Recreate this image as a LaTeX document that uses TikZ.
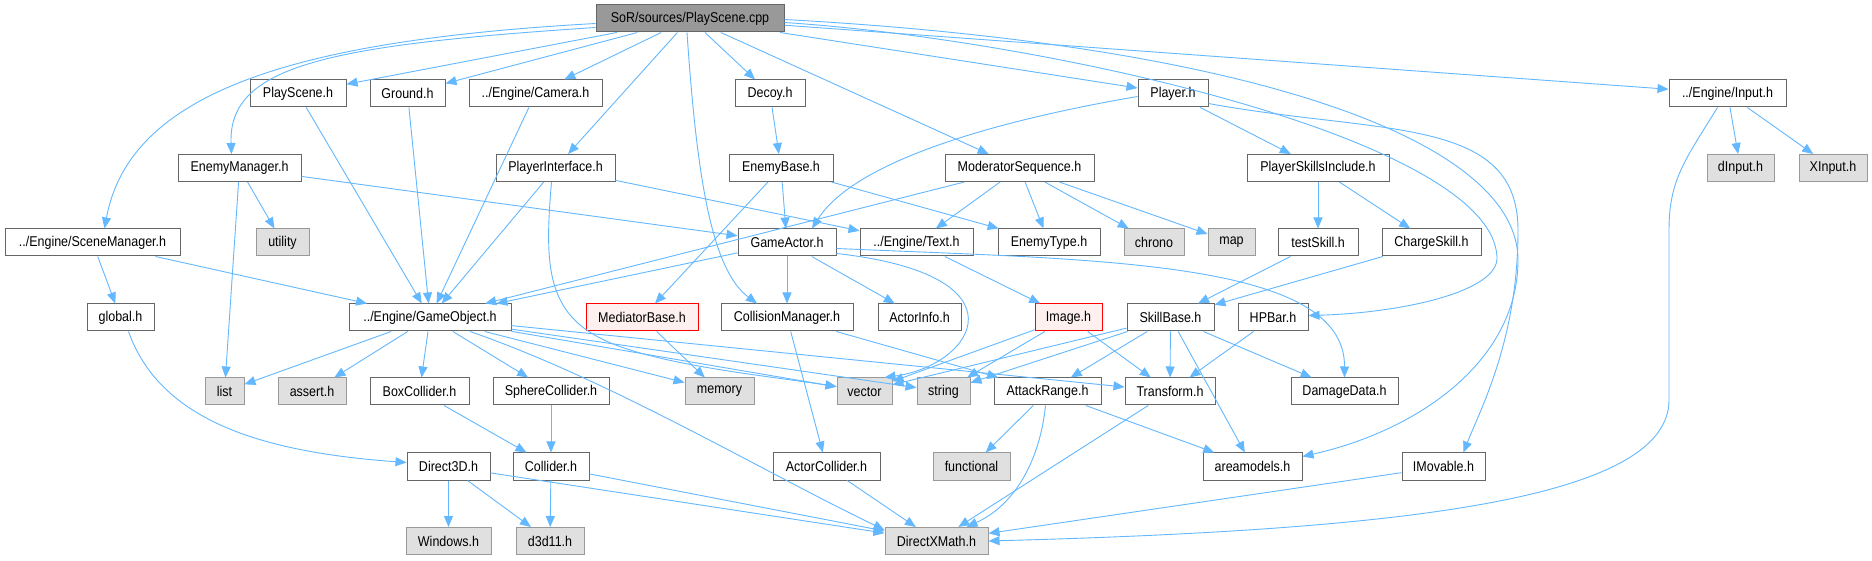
\documentclass[tikz,border=0pt]{standalone}
\usepackage{fontspec}
\setmainfont{Liberation Sans}[FakeStretch=0.88]
\usepackage{tikz}
\usetikzlibrary{arrows.meta}
\definecolor{edgeblue}{HTML}{63B8FF}
\definecolor{boxgray}{HTML}{666666}
\definecolor{sysdraw}{HTML}{999999}
\definecolor{sysfill}{HTML}{E0E0E0}
\definecolor{rootfill}{HTML}{999999}
\definecolor{missfill}{HTML}{FFF0F0}

\begin{document}
\begin{tikzpicture}[x=1pt, y=1pt, >={Triangle[length=11pt,width=9pt]},
    hdr/.style={draw=boxgray, fill=white, line width=1pt, minimum height=27pt,
        inner sep=0pt, font=\fontsize{14.2}{16}\selectfont},
    sys/.style={hdr, draw=sysdraw, fill=sysfill},
    mainfile/.style={hdr, fill=rootfill},
    missing/.style={hdr, draw=red, fill=missfill},
    dep/.style={->, draw=edgeblue, line width=0.9pt}]
    \fill[white] (0,0) rectangle (1872,560);
    \useasboundingbox (0,0) rectangle (1872,560);

    % row 1
    \node[mainfile, minimum width=188pt] (playscenecpp) at (690,541.5) {SoR/sources/PlayScene.cpp};
    % row 2
    \node[hdr, minimum width=96pt] (playsceneh) at (298,466.5) {PlayScene.h};
    \node[hdr, minimum width=75pt] (ground) at (407.5,466.5) {Ground.h};
    \node[hdr, minimum width=133pt] (camera) at (535.5,466.5) {../Engine/Camera.h};
    \node[hdr, minimum width=70pt] (decoy) at (770,466.5) {Decoy.h};
    \node[hdr, minimum width=70pt] (player) at (1173,466.5) {Player.h};
    \node[hdr, minimum width=117pt] (input) at (1727.5,466.5) {../Engine/Input.h};
    % row 3
    \node[hdr, minimum width=123pt] (enemymanager) at (239.5,392) {EnemyManager.h};
    \node[hdr, minimum width=119pt] (playerinterface) at (555.5,392) {PlayerInterface.h};
    \node[hdr, minimum width=104pt] (enemybase) at (781,392) {EnemyBase.h};
    \node[hdr, minimum width=149pt] (moderator) at (1019.5,392) {ModeratorSequence.h};
    \node[hdr, minimum width=142pt] (skillsinclude) at (1318,392) {PlayerSkillsInclude.h};
    \node[sys, minimum width=67pt] (dinput) at (1740.5,392) {dInput.h};
    \node[sys, minimum width=68pt] (xinput) at (1833,392) {XInput.h};
    % row 4
    \node[hdr, minimum width=175pt] (scenemanager) at (92.5,317.5) {../Engine/SceneManager.h};
    \node[sys, minimum width=53pt] (utility) at (282.5,317.5) {utility};
    \node[hdr, minimum width=98pt] (gameactor) at (787,317.5) {GameActor.h};
    \node[hdr, minimum width=113pt] (text) at (916.5,317.5) {../Engine/Text.h};
    \node[hdr, minimum width=102pt] (enemytype) at (1049,317.5) {EnemyType.h};
    \node[sys, minimum width=60pt] (chrono) at (1154,317.5) {chrono};
    \node[sys, minimum width=47pt] (map) at (1231.5,317.5) {map};
    \node[hdr, minimum width=80pt] (testskill) at (1318,317.5) {testSkill.h};
    \node[hdr, minimum width=99pt] (chargeskill) at (1431.5,317.5) {ChargeSkill.h};
    % row 5
    \node[hdr, minimum width=67pt] (global) at (120.5,242.5) {global.h};
    \node[hdr, minimum width=162pt] (gameobject) at (430,242.5) {../Engine/GameObject.h};
    \node[missing, minimum width=112pt] (mediator) at (642,242.5) {MediatorBase.h};
    \node[hdr, minimum width=132pt] (collision) at (787,242.5) {CollisionManager.h};
    \node[hdr, minimum width=83pt] (actorinfo) at (919.5,242.5) {ActorInfo.h};
    \node[missing, minimum width=67pt] (image) at (1068.5,242.5) {Image.h};
    \node[hdr, minimum width=87pt] (skillbase) at (1170.5,242.5) {SkillBase.h};
    \node[hdr, minimum width=70pt] (hpbar) at (1273,242.5) {HPBar.h};
    % row 6
    \node[sys, minimum width=39pt] (list) at (224.5,168.5) {list};
    \node[sys, minimum width=68pt] (assert) at (312,168.5) {assert.h};
    \node[hdr, minimum width=99pt] (boxcollider) at (419.5,168.5) {BoxCollider.h};
    \node[hdr, minimum width=116pt] (spherecollider) at (551,168.5) {SphereCollider.h};
    \node[sys, minimum width=69pt] (memory) at (719.5,168.5) {memory};
    \node[sys, minimum width=55pt] (vector) at (864.5,168.5) {vector};
    \node[sys, minimum width=53pt] (string) at (943.5,168.5) {string};
    \node[hdr, minimum width=107pt] (attackrange) at (1047.5,168.5) {AttackRange.h};
    \node[hdr, minimum width=90pt] (transform) at (1170,168.5) {Transform.h};
    \node[hdr, minimum width=107pt] (damagedata) at (1344.5,168.5) {DamageData.h};
    % row 7
    \node[hdr, minimum width=83pt] (direct3d) at (448.5,93.5) {Direct3D.h};
    \node[hdr, minimum width=76pt] (collider) at (551,93.5) {Collider.h};
    \node[hdr, minimum width=107pt] (actorcollider) at (826.5,93.5) {ActorCollider.h};
    \node[sys, minimum width=77pt] (functional) at (971.5,93.5) {functional};
    \node[hdr, minimum width=99pt] (areamodels) at (1252.5,93.5) {areamodels.h};
    \node[hdr, minimum width=83pt] (imovable) at (1443.5,93.5) {IMovable.h};
    % row 8
    \node[sys, minimum width=85pt] (windows) at (448.5,19) {Windows.h};
    \node[sys, minimum width=68pt] (d3d11) at (550,19) {d3d11.h};
    \node[sys, minimum width=103pt] (directxmath) at (936.5,19) {DirectXMath.h};

    % straight includes
    \foreach \a/\b in {playscenecpp/playsceneh, playscenecpp/ground, playscenecpp/camera,
        playscenecpp/decoy, playscenecpp/player, playscenecpp/input,
        playscenecpp/playerinterface, playscenecpp/moderator,
        playsceneh/gameobject, ground/gameobject, camera/gameobject,
        decoy/enemybase, player/skillsinclude, input/dinput, input/xinput,
        enemymanager/list, enemymanager/utility, enemymanager/gameactor,
        playerinterface/gameobject, playerinterface/text,
        enemybase/gameactor, enemybase/mediator, enemybase/enemytype,
        moderator/gameobject, moderator/text, moderator/enemytype,
        moderator/chrono, moderator/map,
        skillsinclude/testskill, skillsinclude/chargeskill,
        scenemanager/global, scenemanager/gameobject,
        gameactor/gameobject, gameactor/collision, gameactor/actorinfo,
        text/image, testskill/skillbase, chargeskill/skillbase,
        gameobject/list, gameobject/assert, gameobject/boxcollider,
        gameobject/spherecollider, gameobject/memory, gameobject/vector,
        gameobject/string, gameobject/transform,
        mediator/memory, collision/actorcollider, collision/attackrange,
        image/vector, image/string, image/transform,
        skillbase/vector, skillbase/string, skillbase/attackrange,
        skillbase/transform, skillbase/damagedata, skillbase/areamodels,
        hpbar/transform, boxcollider/collider, spherecollider/collider,
        attackrange/functional, attackrange/areamodels, transform/directxmath,
        direct3d/windows, direct3d/d3d11, direct3d/directxmath,
        collider/d3d11, collider/directxmath, actorcollider/directxmath,
        imovable/directxmath}
        \draw[dep] (\a) -- (\b);

    % curved includes
    \draw[dep] ([yshift=-5pt]playscenecpp.west) .. controls (300,520) and (130,470) .. ([xshift=12pt]scenemanager.north);
    \draw[dep] ([yshift=-9pt]playscenecpp.west) .. controls (330,515) and (228,495) .. ([xshift=-8pt]enemymanager.north);
    \draw[dep] ([xshift=-3pt]playscenecpp.south) .. controls (697,380) and (712,290) .. ([xshift=-30pt]collision.north);
    \draw[dep] ([yshift=-4pt]playscenecpp.east) .. controls (1050,520) and (1492,420) .. (1497,303)
        .. controls (1499,268) and (1400,247) .. ([yshift=2pt]hpbar.east);
    \draw[dep] ([yshift=-1pt]playscenecpp.east) .. controls (1250,515) and (1518,420) .. (1518,300)
        .. controls (1518,200) and (1420,130) .. ([yshift=-4pt]areamodels.north east);
    \draw[dep] ([yshift=-10pt]player.east) .. controls (1380,425) and (1518,445) .. (1518,330)
        .. controls (1518,220) and (1480,150) .. ([xshift=20pt]imovable.north);
    \draw[dep] ([yshift=-3pt]player.west) .. controls (1000,440) and (855,400) .. ([xshift=25pt]gameactor.north);
    \draw[dep] ([xshift=-10pt]input.south) .. controls (1685,400) and (1669,380) .. (1669,330) -- (1669,160)
        .. controls (1669,60) and (1400,30) .. (directxmath.east);
    \draw[dep] ([xshift=-4pt]playerinterface.south) .. controls (545,300) and (545,250) .. (600,222)
        .. controls (650,196) and (760,185) .. ([yshift=5pt]vector.west);
    \draw[dep] ([yshift=-11pt]gameactor.east) .. controls (1030,285) and (975,195) .. ([xshift=20pt]vector.north);
    \draw[dep] ([yshift=-6pt]gameactor.east) .. controls (1100,300) and (1345,300) .. (damagedata.north);
    \draw[dep] ([xshift=8pt]global.south) .. controls (160,140) and (260,108) .. ([yshift=4pt]direct3d.west);
    \draw[dep] ([xshift=40pt]gameobject.south) .. controls (610,180) and (760,90) .. ([yshift=-3pt]directxmath.north west);
    \draw[dep] ([xshift=-2pt]attackrange.south) .. controls (1040,100) and (1015,55) .. ([xshift=30pt]directxmath.north);
\end{tikzpicture}
\end{document}
